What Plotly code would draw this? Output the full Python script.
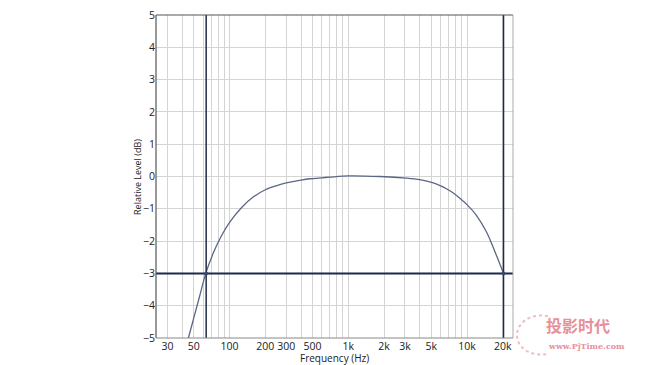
import plotly.graph_objects as go
import math

# Frequency response curve (Hz, dB)
freq = [42, 45, 50, 56, 63, 73.5, 85, 100, 127, 159, 200, 250, 300, 400, 476, 600, 700,
        1000, 1860, 3070, 4000, 5200, 6000, 6700, 7500, 8700, 10000, 12000, 14600, 17200, 20300]
level = [-5.4, -5.0, -4.37, -3.7, -3.0, -2.34, -1.85, -1.42, -0.95, -0.63, -0.41, -0.28,
         -0.2, -0.11, -0.07, -0.04, -0.02, 0.02, 0.0, -0.05, -0.1, -0.2, -0.29, -0.38, -0.49,
         -0.67, -0.87, -1.2, -1.72, -2.33, -3.0]

# Cursor markers
cursor_freqs = [63.5, 20300]
cursor_level = -3

# Axis ticks
grid_freqs = [30, 40, 50, 60, 70, 80, 90, 100, 200, 300, 400, 500, 600, 700, 800, 900,
              1000, 2000, 3000, 4000, 5000, 6000, 7000, 8000, 9000, 10000, 20000]
labeled = {30: "30", 50: "50", 100: "100", 200: "200", 300: "300", 500: "500",
           1000: "1k", 2000: "2k", 3000: "3k", 5000: "5k", 10000: "10k", 20000: "20k"}
tick_text = [labeled.get(f, "") for f in grid_freqs]
y_ticks = list(range(-5, 6))

x_min, x_max = 24, 24400
x_range = [math.log10(x_min), math.log10(x_max)]

fig = go.Figure()

fig.add_trace(go.Scatter(x=freq, y=level, mode="lines", line=dict(color="#5a6784", width=1.3),
                         line_shape="spline", line_smoothing=1.0,
                         showlegend=False, hoverinfo="skip"))

for cf in cursor_freqs:
    fig.add_trace(go.Scatter(x=[cf, cf], y=[-5, 5], mode="lines",
                             line=dict(color="#1f2b45", width=1.5), showlegend=False))

fig.add_trace(go.Scatter(x=[x_min, x_max], y=[cursor_level, cursor_level], mode="lines",
                         line=dict(color="#1a2a4c", width=2), showlegend=False))
fig.add_trace(go.Scatter(x=cursor_freqs, y=[cursor_level] * 2, mode="markers",
                         marker=dict(color="#3a4a6a", size=4), showlegend=False))

font = "Open Sans, DejaVu Sans, sans-serif"
pink = "#e8909a"

# the page body adds an 8px offset; size the figure so it fills the 650x365 window
fig.update_layout(
    width=642, height=357,
    margin=dict(l=148, r=137, t=7, b=27),
    plot_bgcolor="white", paper_bgcolor="white",
    font=dict(family=font, size=10.5, color="#222"),
    xaxis=dict(type="log", range=x_range, tickvals=grid_freqs, ticktext=tick_text,
               showgrid=True, gridcolor="#d4d4d4", gridwidth=1, ticks="",
               zeroline=False, showline=False, automargin=False,
               ticklabeloverflow="allow"),
    yaxis=dict(range=[-5, 5], tickvals=y_ticks, showgrid=True, gridcolor="#d4d4d4",
               zeroline=False, showline=False, ticks="", automargin=False,
               ticklabeloverflow="allow"),
    shapes=[
        dict(type="line", xref="paper", yref="paper", x0=0, x1=1, y0=1, y1=1,
             line=dict(color="#555", width=1.2)),
        dict(type="line", xref="paper", yref="paper", x0=0, x1=0, y0=0, y1=1,
             line=dict(color="#555", width=1.2)),
        dict(type="line", xref="paper", yref="paper", x0=1, x1=1, y0=0, y1=1,
             line=dict(color="#aaa", width=1)),
        dict(type="line", xref="paper", yref="paper", x0=0, x1=1, y0=0, y1=0,
             line=dict(color="#888", width=1)),
        dict(type="path", xref="paper", yref="paper",
             path="M 1.098,0.068 C 1.04,0.078 1.011,0.04 1.011,0.009 "
                  "C 1.011,-0.025 1.04,-0.058 1.098,-0.05",
             line=dict(color="rgba(232,144,154,0.6)", width=2, dash="dot")),
    ],
    annotations=[
        dict(text="Frequency (Hz)", x=0.5, y=-0.062, xref="paper", yref="paper",
             xanchor="center", yanchor="middle", showarrow=False, font=dict(size=10)),
        dict(text="Relative Level (dB)", x=-0.052, y=0.5, xref="paper", yref="paper",
             xanchor="center", yanchor="middle", showarrow=False, textangle=-90,
             font=dict(size=9)),
        dict(text="<b>投影时代</b>", x=1.088, y=0.04, xref="paper", yref="paper",
             xanchor="left", yanchor="middle", showarrow=False,
             font=dict(family="Noto Sans CJK SC", size=16, color=pink)),
        dict(text="<b>www.PjTime.com</b>", x=1.093, y=-0.024, xref="paper", yref="paper",
             xanchor="left", yanchor="middle", showarrow=False,
             font=dict(family="DejaVu Serif", size=8, color=pink)),
    ],
)

fig.write_html("out.html")
